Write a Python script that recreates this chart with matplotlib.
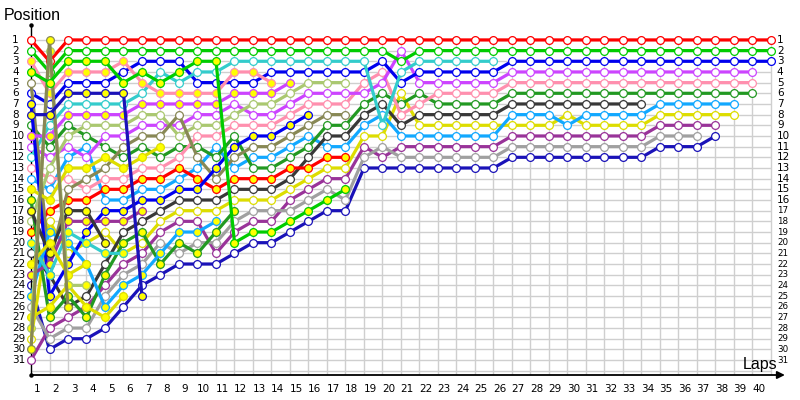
import matplotlib
matplotlib.use("Agg")
import matplotlib.pyplot as plt

# lap 0 = grid, one list per car, index = lap, list stops when the car stops
red = [1, 3, 1, 1, 1, 1, 1, 1, 1, 1,
       1, 1, 1, 1, 1, 1, 1, 1, 1, 1,
       1, 1, 1, 1, 1, 1, 1, 1, 1, 1,
       1, 1, 1, 1, 1, 1, 1, 1, 1, 1,
       1]
green = [2, 4, 2, 2, 2, 2, 2, 2, 2, 2,
         2, 2, 2, 2, 2, 2, 2, 2, 2, 2,
         3, 2, 2, 2, 2, 2, 2, 2, 2, 2,
         2, 2, 2, 2, 2, 2, 2, 2, 2, 2,
         2]
blue = [6, 7, 5, 5, 5, 4, 3, 3, 3, 5,
        5, 5, 5, 4, 4, 4, 4, 4, 4, 3,
        5, 4, 4, 4, 4, 4, 3, 3, 3, 3,
        3, 3, 3, 3, 3, 3, 3, 3, 3, 3,
        3]
violet = [11, 12, 11, 12, 10, 10, 9, 9, 9, 8,
          8, 7, 8, 8, 7, 6, 6, 6, 6, 5,
          2, 5, 5, 5, 5, 5, 4, 4, 4, 4,
          4, 4, 4, 4, 4, 4, 4, 4, 4, 4]
pink = [13, 14, 14, 15, 14, 14, 13, 13, 12, 10,
        10, 9, 9, 9, 8, 7, 7, 7, 5, 4,
        8, 7, 6, 6, 6, 6, 5, 5, 5, 5,
        5, 5, 5, 5, 5, 5, 5, 5, 5, 5]
dkgreen = [9, 11, 9, 10, 11, 12, 11, 12, 11, 11,
           12, 10, 13, 13, 12, 11, 9, 9, 7, 6,
           7, 6, 7, 7, 7, 7, 6, 6, 6, 6,
           6, 6, 6, 6, 6, 6, 6, 6, 6, 6]
lightblue = [14, 15, 12, 11, 16, 16, 15, 15, 14, 13,
             11, 13, 12, 12, 11, 10, 11, 11, 9, 8,
             10, 10, 10, 10, 10, 10, 8, 8, 8, 9,
             8, 8, 8, 8, 7, 7, 7, 7, 7]
yellow = [29, 18, 21, 20, 19, 21, 20, 18, 17, 17,
          17, 16, 16, 16, 15, 14, 13, 13, 10, 10,
          6, 9, 9, 9, 9, 9, 9, 9, 9, 8,
          9, 9, 9, 9, 8, 8, 8, 8, 8]
purple = [31, 28, 27, 26, 24, 22, 21, 19, 18, 18,
          21, 19, 18, 18, 16, 15, 14, 14, 11, 12,
          11, 11, 11, 11, 11, 11, 10, 10, 10, 10,
          10, 10, 10, 10, 9, 9, 9, 9]
navy = [24, 30, 29, 29, 28, 26, 24, 23, 22, 22,
        22, 21, 20, 20, 19, 18, 17, 17, 13, 13,
        13, 13, 13, 13, 13, 13, 12, 12, 12, 12,
        12, 12, 12, 12, 11, 11, 11, 10]
gray = [26, 29, 28, 28, 25, 23, 22, 20, 21, 20,
        20, 18, 17, 17, 17, 16, 15, 16, 12, 11,
        12, 12, 12, 12, 12, 12, 11, 11, 11, 11,
        11, 11, 11, 11, 10, 10, 10]
black = [21, 23, 26, 25, 22, 19, 18, 17, 16, 16,
         16, 15, 15, 15, 14, 12, 10, 10, 8, 7,
         9, 8, 8, 8, 8, 8, 7, 7, 7, 7,
         7, 7, 7, 7]
teal = [12, 9, 7, 7, 7, 7, 6, 4, 5, 4,
        4, 3, 3, 3, 3, 3, 3, 3, 3, 9,
        4, 3, 3, 3, 3, 3]
red_y = [19, 17, 16, 16, 15, 15, 14, 14, 13, 14,
         15, 14, 14, 14, 13, 13, 12, 12]
green_y = [4, 5, 3, 3, 3, 5, 4, 5, 4, 3,
           3, 20, 19, 19, 18, 17, 16, 15]
lightgreen = [18, 13, 10, 9, 9, 9, 8, 8, 10, 9,
              9, 8, 7, 7, 6, 5, 5, 5]
olive = [5, 22, 15, 14, 13, 11, 10, 10, 8, 12,
         14, 12, 11, 11, 10, 9, 8, 8]
blue_y = [7, 25, 22, 19, 17, 17, 16, 16, 15, 15,
          13, 11, 10, 10, 9, 8]
violet_y = [10, 10, 8, 8, 8, 8, 7, 7, 7, 7,
            7, 6, 6, 6, 5]
pink_y = [3, 6, 4, 4, 4, 3, 5, 6, 6, 6,
          6, 4, 4, 5]
dkgreen_y = [16, 27, 25, 27, 23, 20, 19, 22, 20, 21, 19, 17]
lightblue_y = [25, 19, 20, 22, 26, 24, 23, 21, 19, 19, 18]
yellow_y = [15, 16, 13, 13, 12, 13, 12, 11]
navy_y = [8, 8, 6, 6, 6, 6, 25]
purple_y = [23, 22, 18, 18, 18, 18, 17]
teal_y = [20, 23, 19, 20, 21, 21]
yellow_y3 = [27, 26, 24, 26, 27, 25]
black_y = [17, 21, 17, 17, 20]
lightgreen_y = [28, 2, 24, 24]
yellow_y2 = [22, 20, 23, 22]
olive_y = [30, 1, 26]

lap_labels = list(range(1, 41))
pos_labels = list(range(1, 32))

W = "white"
Y = "#ffff00"
# drawn in this order: finishers from the back, then the retirements on top
cars = [
    (navy, "#1a12b8", W), (purple, "#993399", W), (gray, "#a0a0a0", W),
    (yellow, "#dddd00", W), (lightblue, "#11a8ff", W), (black, "#383838", W),
    (dkgreen, "#229922", W), (pink, "#ff8fae", W), (violet, "#cc44ff", W),
    (blue, "#0000ee", W), (green, "#00cc00", W), (red, "#ff0000", W),
    (teal, "#33cccc", W), (red_y, "#ff0000", Y), (lightgreen, "#aac870", W),
    (olive, "#888855", W), (blue_y, "#0000ee", Y), (violet_y, "#cc44ff", Y),
    (pink_y, "#ff8fae", Y), (dkgreen_y, "#229922", Y), (lightblue_y, "#11a8ff", Y),
    (yellow_y, "#dddd00", Y), (purple_y, "#993399", Y), (teal_y, "#33cccc", Y),
    (yellow_y3, "#dddd00", Y), (black_y, "#383838", Y), (lightgreen_y, "#aac870", Y),
    (yellow_y2, "#dddd00", Y), (olive_y, "#888855", Y), (navy_y, "#1a12b8", Y),
    (green_y, "#00cc00", Y),
]

fig = plt.figure(figsize=(8, 4), dpi=100)
# lap 0 sits on x=31px, 18.5px per lap; position 1 at y=40px, 10.67px per place
ax = fig.add_axes([31 / 800, 25 / 400, 760 / 800, 350 / 400])
ax.set_xlim(0, 760 / 18.5)
ax.set_ylim(32.4, -0.4)
ax.axis("off")

grid_c = "#cfcfcf"
ax.hlines(range(1, 33), 0, 40, colors=grid_c, lw=1.0, zorder=0)
ax.vlines(range(1, 41), 1, 32.4, colors=grid_c, lw=1.0, zorder=0)

for z, (series, col, face) in enumerate(cars):
    ax.plot(range(len(series)), series, color=col, lw=2.3, marker="o", ms=5.6,
            mfc=face, mec=col, mew=0.9, zorder=2 + z * 0.01, clip_on=False,
            solid_joinstyle="round")

# axes with arrows
ax.annotate("", xy=(40.75, 32.4), xytext=(0, 32.4),
            arrowprops=dict(arrowstyle="-|>", color="black", lw=1.3,
                            mutation_scale=11, shrinkA=0, shrinkB=0),
            annotation_clip=False)
ax.plot([0, 0], [32.4, -0.4], color="black", lw=1.0, clip_on=False)
ax.plot([0, 0], [-0.4, 32.4], "o", color="black", ms=2.2, clip_on=False)

for p in pos_labels:
    ax.text(-1.03, p, str(p), ha="left", va="center", fontsize=7.5,
            family="DejaVu Sans", clip_on=False)
    ax.text(40.32, p, str(p), ha="left", va="center",
            fontsize=7.5 if p <= 16 else 6.3, family="DejaVu Sans", clip_on=False)

for k in lap_labels:
    ax.text(k - 0.67, 33.7, str(k), ha="center", va="center", fontsize=7.5,
            family="DejaVu Sans", clip_on=False)

fig.text(4 / 800, 1 - 16 / 400, "Position", ha="left", va="center",
         fontsize=11.5, family="Liberation Sans")
fig.text(743 / 800, 1 - 364 / 400, "Laps", ha="left", va="center",
         fontsize=11.5, family="Liberation Sans")

fig.savefig("out.png", dpi=100)
